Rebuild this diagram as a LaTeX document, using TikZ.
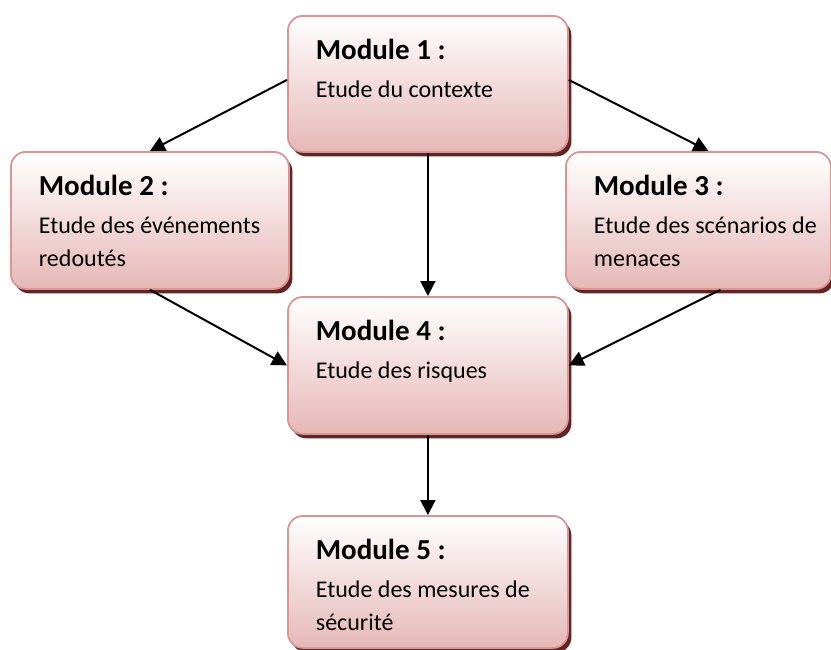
\documentclass[tikz,border=0pt]{standalone}
\usepackage{fontspec}
\setmainfont{Carlito}
\usetikzlibrary{arrows.meta,shadows}

\definecolor{modbottom}{HTML}{E5B8B7}
\definecolor{modborder}{HTML}{D99694}
\definecolor{modshadow}{HTML}{632523}

\newcommand{\modtext}[4]{\parbox[t][#2][t]{#1}{\leftskip=28pt\rightskip=0pt plus 1fil\parfillskip=0pt plus 1fil
\rule{0pt}{44pt}{\fontsize{29}{34}\selectfont\bfseries #3}\par\vspace{3.5pt}
{\fontsize{24}{33.7}\selectfont #4\par}}}

\tikzset{
  module/.style={draw=modborder, line width=1.8pt, rounded corners=15pt,
    top color=white, bottom color=modbottom, inner sep=0pt, anchor=north west,
    drop shadow={shadow xshift=3.5pt, shadow yshift=-4.5pt, fill=modshadow, opacity=1}},
  flow/.style={line width=2pt, -{Triangle[length=15pt,width=15pt]}}
}

\begin{document}
\begin{tikzpicture}[x=1pt, y=1pt]
\useasboundingbox (0,0) rectangle (831,-650);

\node [module] (m1) at (287,-15) {\modtext{280pt}{136pt}{Module 1 :}{Etude du contexte}};
\node [module] (m2) at (10,-151) {\modtext{278pt}{137pt}{Module 2 :}{Etude des événements\\ redoutés}};
\node [module] (m3) at (565,-151) {\modtext{265pt}{137pt}{Module 3 :}{Etude des scénarios de\\ menaces}};
\node [module] (m4) at (287,-296) {\modtext{280pt}{137pt}{Module 4 :}{Etude des risques}};
\node [module] (m5) at (287,-515) {\modtext{280pt}{132pt}{Module 5 :}{Etude des mesures de\\ sécurité}};

\draw [flow] ([yshift=4pt]m1.west) -- (m2.north);
\draw [flow] ([yshift=4pt]m1.east) -- ([xshift=10pt]m3.north);
\draw [flow] (m1.south) -- (m4.north);
\draw [flow] (m2.south) -- (m4.west);
\draw [flow] ([xshift=22pt]m3.south) -- (m4.east);
\draw [flow] (m4.south) -- (m5.north);

\end{tikzpicture}
\end{document}
